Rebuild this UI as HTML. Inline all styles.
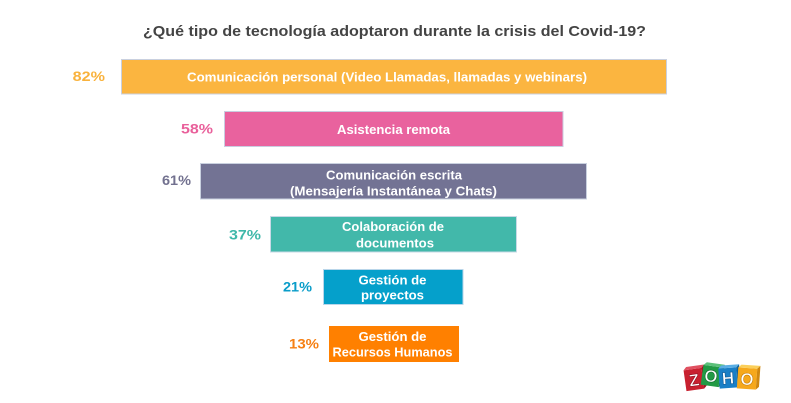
<!DOCTYPE html>
<html>
<head>
<meta charset="utf-8">
<style>
  html,body{margin:0;padding:0;background:#ffffff;}
  svg{display:block;}
  text{font-family:"Liberation Sans", sans-serif;}
</style>
</head>
<body>
<svg width="791" height="403" viewBox="0 0 791 403" xmlns="http://www.w3.org/2000/svg">
  <rect width="791" height="403" fill="#ffffff"/>

  <!-- Title -->
  <text x="143" y="36" font-size="15" font-weight="bold" fill="#444444" textLength="503" lengthAdjust="spacingAndGlyphs">¿Qué tipo de tecnología adoptaron durante la crisis del Covid-19?</text>

  <!-- Bars -->
  <rect x="121.5" y="59.5" width="545" height="34.5" fill="#fbb540" stroke="#c9d0df" stroke-width="1"/>
  <rect x="224.5" y="111.5" width="338.5" height="35" fill="#e9629e" stroke="#c9cde0" stroke-width="1"/>
  <rect x="200.5" y="163.5" width="386" height="35.5" fill="#737394" stroke="#c9d0df" stroke-width="1"/>
  <rect x="270.5" y="216.5" width="246" height="35.5" fill="#42b8aa" stroke="#c9d9e6" stroke-width="1"/>
  <rect x="323.5" y="269.5" width="139.5" height="35" fill="#05a0cb" stroke="#b9d6ea" stroke-width="1"/>
  <rect x="329" y="326" width="130" height="36" fill="#ff8000"/>

  <!-- Bar labels -->
  <g fill="#ffffff" font-size="13" font-weight="bold">
    <text x="187" y="81.5" textLength="400" lengthAdjust="spacingAndGlyphs">Comunicación personal (Video Llamadas, llamadas y webinars)</text>
    <text x="337" y="134" textLength="113" lengthAdjust="spacingAndGlyphs">Asistencia remota</text>
    <text x="326" y="179.3" textLength="136" lengthAdjust="spacingAndGlyphs">Comunicación escrita</text>
    <text x="290" y="195.5" textLength="207" lengthAdjust="spacingAndGlyphs">(Mensajería Instantánea y Chats)</text>
    <text x="342" y="231" textLength="102" lengthAdjust="spacingAndGlyphs">Colaboración de</text>
    <text x="356" y="247.3" textLength="78" lengthAdjust="spacingAndGlyphs">documentos</text>
    <text x="358.5" y="284.3" textLength="68" lengthAdjust="spacingAndGlyphs">Gestión de</text>
    <text x="361" y="299.5" textLength="63" lengthAdjust="spacingAndGlyphs">proyectos</text>
    <text x="358.5" y="341" textLength="68" lengthAdjust="spacingAndGlyphs">Gestión de</text>
    <text x="332.5" y="356.7" textLength="120" lengthAdjust="spacingAndGlyphs">Recursos Humanos</text>
  </g>

  <!-- Percent labels -->
  <g font-size="14" font-weight="bold">
    <text x="72.7" y="81" fill="#f9b23c" textLength="32.3" lengthAdjust="spacingAndGlyphs">82%</text>
    <text x="181" y="133.5" fill="#e9609b" textLength="32" lengthAdjust="spacingAndGlyphs">58%</text>
    <text x="162" y="185" fill="#72718f" textLength="29" lengthAdjust="spacingAndGlyphs">61%</text>
    <text x="229" y="239.3" fill="#3fb8a9" textLength="32" lengthAdjust="spacingAndGlyphs">37%</text>
    <text x="283" y="291.3" fill="#0a9dc9" textLength="29" lengthAdjust="spacingAndGlyphs">21%</text>
    <text x="289" y="348.3" fill="#f68014" textLength="30" lengthAdjust="spacingAndGlyphs">13%</text>
  </g>

  <!-- ZOHO logo -->
  <g>
    <!-- Z red -->
    <g transform="translate(694,380) rotate(-8)">
      <rect x="-9" y="-11" width="18" height="21" fill="#c8202f"/>
      <polygon points="-9,-11 -6,-14 12,-14 9,-11" fill="#e05060"/>
      <polygon points="9,-11 12,-14 12,7 9,10" fill="#9e1422"/>
      <text x="0" y="6" font-size="17" font-weight="bold" fill="#ffffff" stroke="#8e1020" stroke-width="0.6" text-anchor="middle">Z</text>
    </g>
    <!-- O green -->
    <g transform="translate(711,376) rotate(8)">
      <rect x="-9" y="-10" width="18" height="20" fill="#229a45"/>
      <polygon points="-9,-10 -6,-13 12,-13 9,-10" fill="#5cc07a"/>
      <polygon points="9,-10 12,-13 12,7 9,10" fill="#167535"/>
      <text x="0" y="6" font-size="17" font-weight="bold" fill="#ffffff" stroke="#0f6a2c" stroke-width="0.6" text-anchor="middle">O</text>
    </g>
    <!-- H blue -->
    <g transform="translate(728,378) rotate(-4)">
      <rect x="-9" y="-10" width="18" height="20" fill="#1a7fc6"/>
      <polygon points="-9,-10 -6,-13 12,-13 9,-10" fill="#5aaee4"/>
      <polygon points="9,-10 12,-13 12,7 9,10" fill="#11609a"/>
      <text x="0" y="6" font-size="17" font-weight="bold" fill="#ffffff" stroke="#0e5590" stroke-width="0.6" text-anchor="middle">H</text>
    </g>
    <!-- O yellow -->
    <g transform="translate(747,379) rotate(4)">
      <rect x="-9.5" y="-11" width="19" height="21" fill="#f6a81c"/>
      <polygon points="-9.5,-11 -6.5,-14 12.5,-14 9.5,-11" fill="#fbcf5a"/>
      <polygon points="9.5,-11 12.5,-14 12.5,7 9.5,10" fill="#d08810"/>
      <text x="0" y="6" font-size="17" font-weight="bold" fill="#ffffff" stroke="#c07a08" stroke-width="0.6" text-anchor="middle">O</text>
    </g>
  </g>
</svg>
</body>
</html>
